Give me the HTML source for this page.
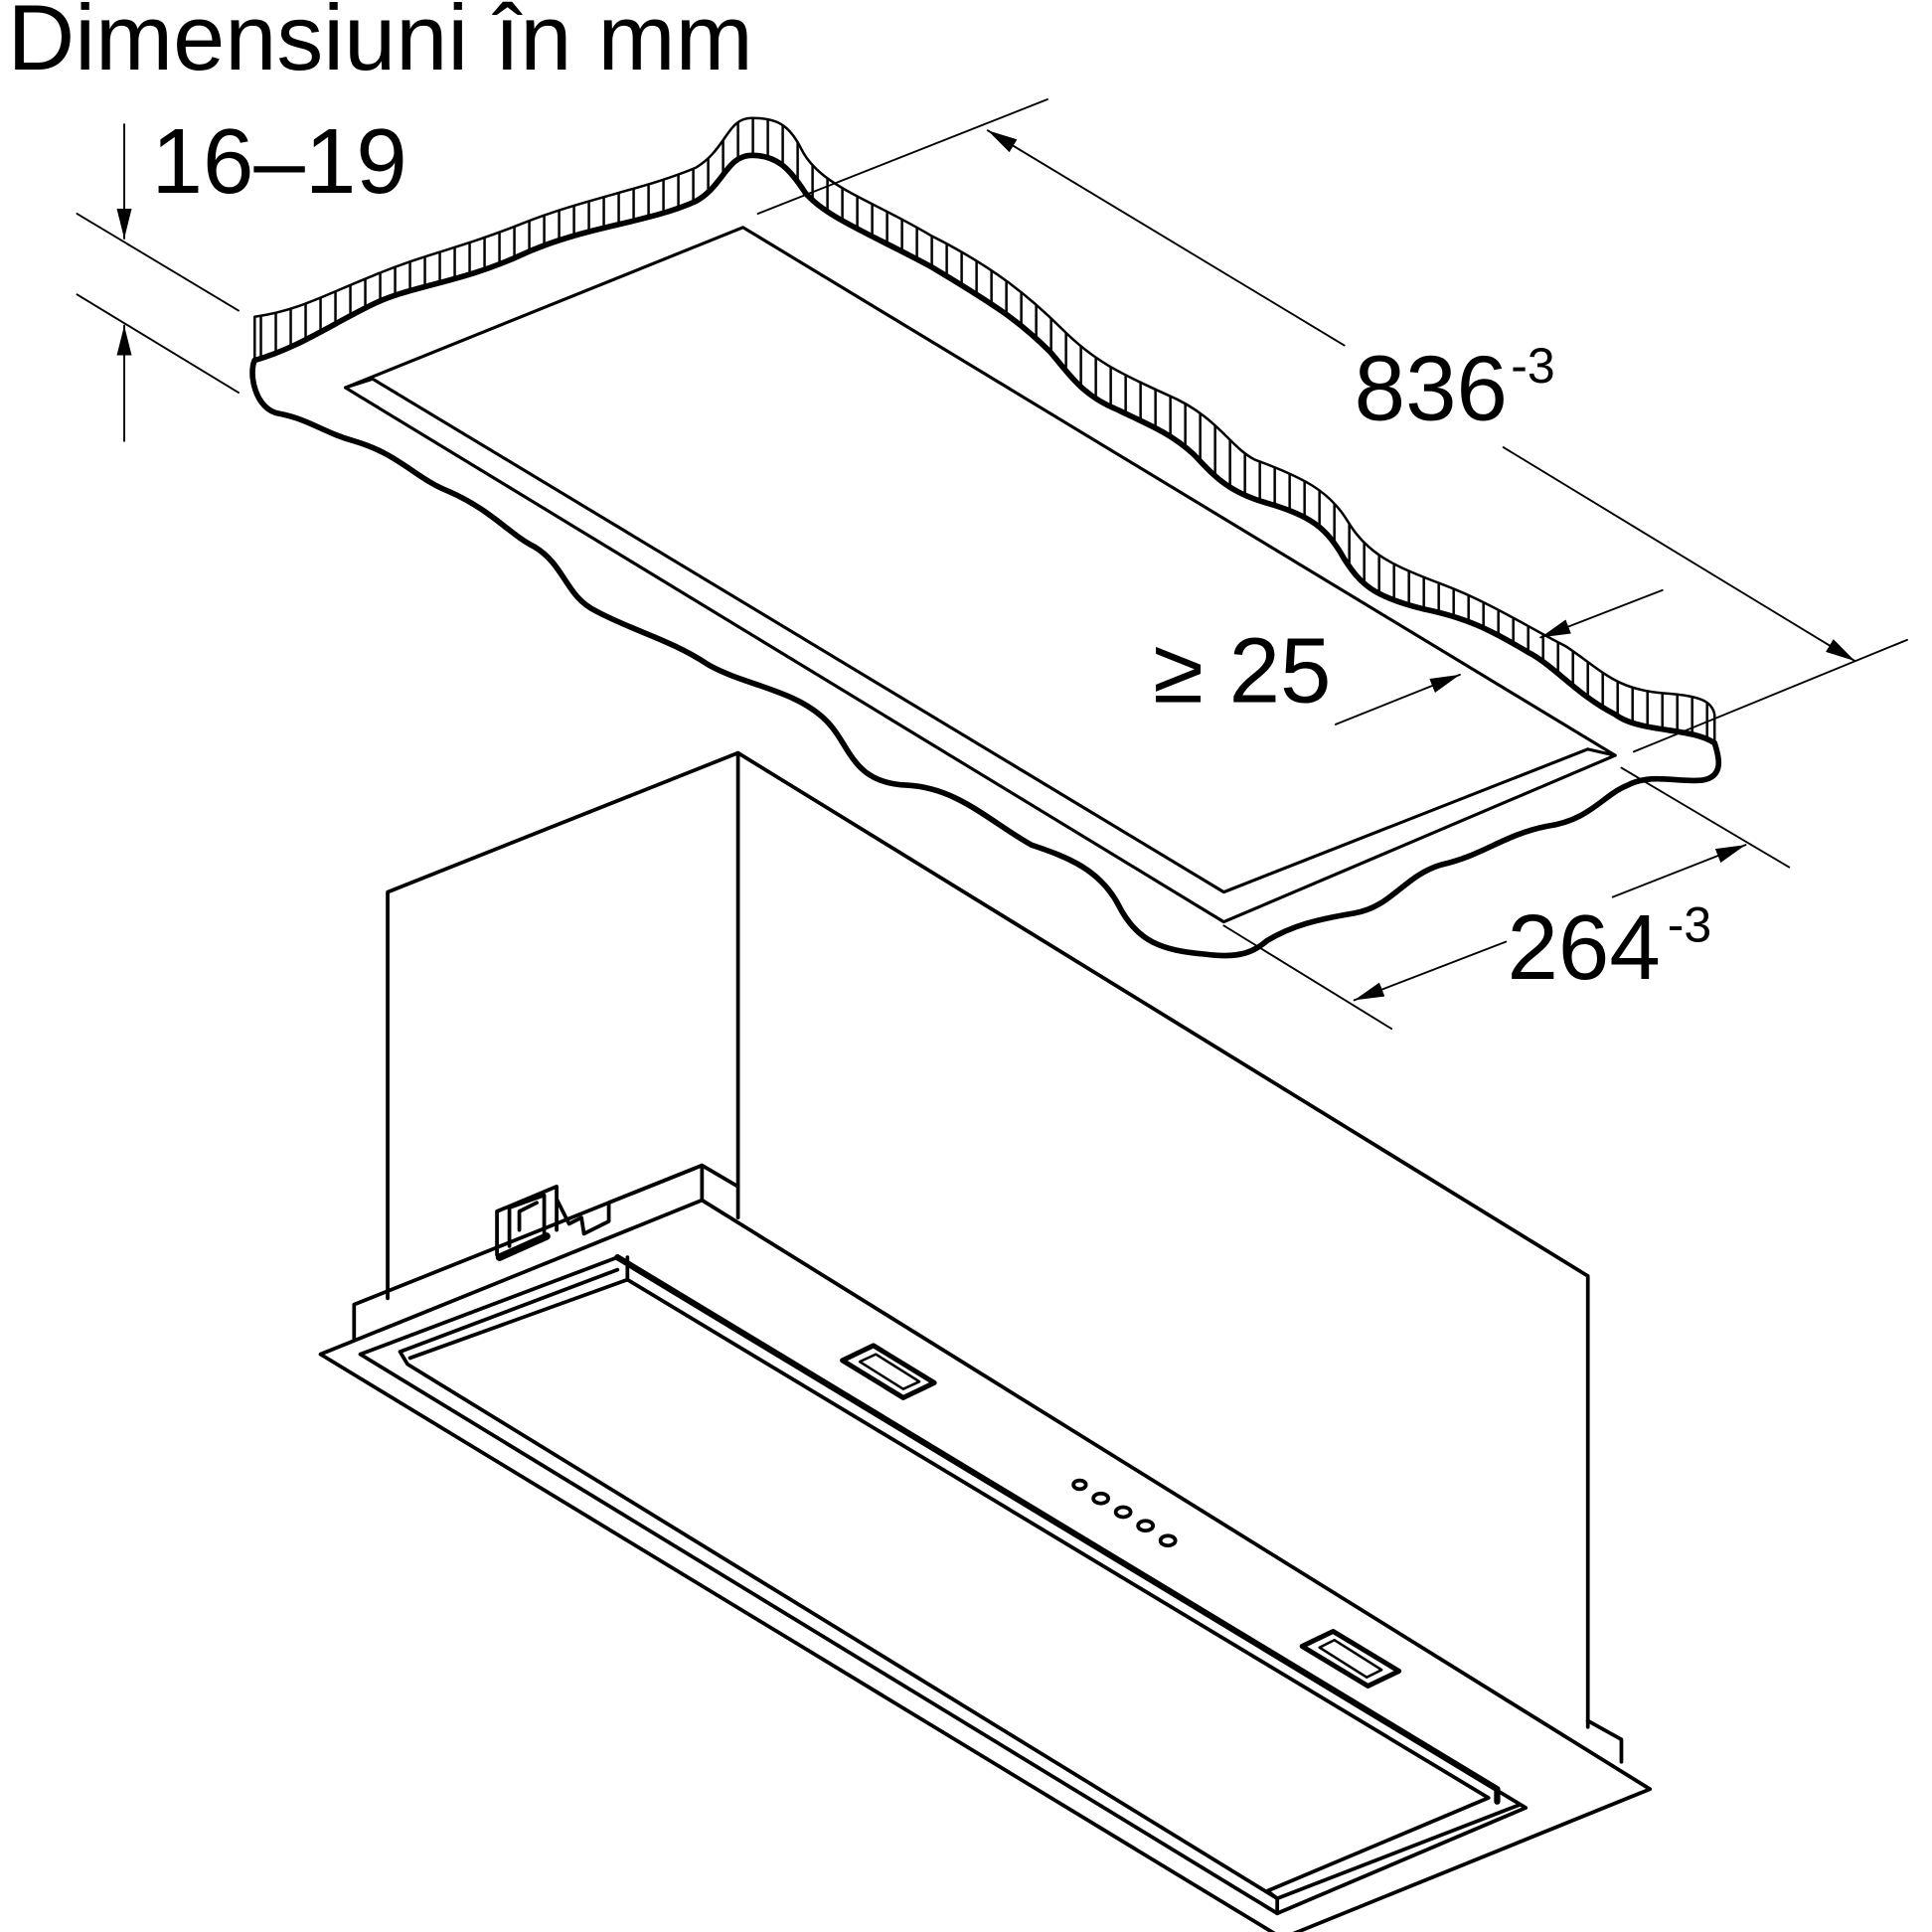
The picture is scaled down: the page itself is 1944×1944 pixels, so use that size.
<!DOCTYPE html>
<html><head><meta charset="utf-8"><style>
html,body{margin:0;padding:0;background:#fff;}
svg{display:block;}
text{font-family:"Liberation Sans",sans-serif;fill:#000;}
</style></head><body>
<svg width="1944" height="1944" viewBox="0 0 1555 1555" xmlns="http://www.w3.org/2000/svg">
<defs>
<pattern id="hatch" width="12" height="40" patternUnits="userSpaceOnUse">
<rect width="12" height="40" fill="#fff"/>
<line x1="6" y1="0" x2="6" y2="40" stroke="#000" stroke-width="2"/>
</pattern>
<marker id="ar" viewBox="0 0 24 12" refX="24" refY="6" markerWidth="24" markerHeight="12" orient="auto-start-reverse" markerUnits="userSpaceOnUse">
<path d="M0,0 L24,6 L0,12 z" fill="#000"/>
</marker>
</defs>
<g fill="none" stroke="#000" stroke-linejoin="round" stroke-linecap="round">
<text x="6" y="56" font-size="75" stroke="none">Dimensiuni în mm</text>
<text x="122" y="155" font-size="74" stroke="none">16–19</text>
<text x="1090" y="338" font-size="74" stroke="none">836</text>
<text x="1216" y="308" font-size="40" stroke="none">-3</text>
<text x="928" y="565" font-size="74" stroke="none">≥ 25</text>
<text x="1213" y="788" font-size="74" stroke="none">264</text>
<text x="1342" y="758" font-size="40" stroke="none">-3</text>

<path fill="url(#hatch)" stroke="#000" stroke-width="2" d="M205,255 C240,250 260,238 300,222 C340,205 370,200 420,180 C470,160 520,152 560,135 C585,120 585,95 605,95 C625,95 635,100 645,120 C660,150 700,160 750,190 C800,215 830,240 855,265 C880,290 900,300 940,318 C980,335 990,360 1010,370 C1050,385 1070,395 1085,420 C1100,445 1120,455 1160,470 C1200,485 1230,505 1260,520 C1290,540 1300,555 1340,558 C1370,560 1378,565 1380,575 L1380,598 C1360,585 1320,590 1300,575 C1270,560 1250,535 1230,525 C1200,507 1180,497 1145,490 C1105,480 1095,470 1082,450 C1068,425 1055,415 1020,405 C985,395 975,380 960,365 C940,347 920,340 900,330 C870,318 860,300 845,283 C820,258 800,245 750,215 C700,188 665,175 648,155 C635,135 625,125 605,125 C585,125 582,150 560,162 C520,180 470,182 420,205 C370,228 330,230 300,245 C265,262 240,280 205,290 Z"/>
<path stroke-width="4.5" d="M1380,598 C1360,585 1320,590 1300,575 C1270,560 1250,535 1230,525 C1200,507 1180,497 1145,490 C1105,480 1095,470 1082,450 C1068,425 1055,415 1020,405 C985,395 975,380 960,365 C940,347 920,340 900,330 C870,318 860,300 845,283 C820,258 800,245 750,215 C700,188 665,175 648,155 C635,135 625,125 605,125 C585,125 582,150 560,162 C520,180 470,182 420,205 C370,228 330,230 300,245 C265,262 240,280 205,290"/>
<path stroke-width="4.5" d="M205,290 C200,300 205,330 225,333 C250,338 260,348 285,355 C320,365 335,385 360,395 C395,410 410,430 430,440 C455,455 455,480 480,492 C510,508 540,515 570,535 C600,552 640,555 665,580 C685,600 685,630 730,632 C770,634 795,660 830,680 C860,690 885,700 900,728 C915,758 935,765 970,768 C1000,772 1010,765 1020,757 C1040,745 1060,740 1090,735 C1120,730 1130,705 1160,696 C1195,688 1210,672 1245,665 C1280,660 1290,640 1310,632 C1330,622 1350,630 1370,628 C1390,625 1382,605 1380,598"/>

<path stroke-width="2.5" d="M278,312 L598,183 L1300,608 L985,742 Z"/>
<path stroke-width="2.5" d="M300,305 L985,718 L1278,603 M278,312 L300,305 M1278,603 L1300,608"/>

<path stroke-width="1.5" d="M62,172 L192,250 M62,237 L192,316"/>
<line x1="100" y1="100" x2="100" y2="192" stroke-width="1.5" marker-end="url(#ar)"/>
<line x1="100" y1="355" x2="100" y2="262" stroke-width="1.5" marker-end="url(#ar)"/>
<path stroke-width="1.5" d="M610,172 L843,80 M1315,605 L1535,515"/>
<line x1="1082" y1="278" x2="795" y2="105" stroke-width="1.5" marker-end="url(#ar)"/>
<line x1="1210" y1="360" x2="1493" y2="532" stroke-width="1.5" marker-end="url(#ar)"/>
<line x1="1075" y1="583" x2="1175" y2="543" stroke-width="1.5" marker-end="url(#ar)"/>
<line x1="1338" y1="475" x2="1240" y2="513" stroke-width="1.5" marker-end="url(#ar)"/>
<path stroke-width="1.5" d="M1305,618 L1440,698 M985,745 L1120,828"/>
<line x1="1298" y1="722" x2="1405" y2="680" stroke-width="1.5" marker-end="url(#ar)"/>
<line x1="1212" y1="758" x2="1090" y2="805" stroke-width="1.5" marker-end="url(#ar)"/>

<g stroke-width="3">
<path d="M312,1045 L312,718 L594,606 L1278,1027 L1278,1390"/>
<path d="M594,606 L594,980"/>
<path d="M285,1078 L285,1050 L565,938 L594,955 M565,938 L565,966"/>
<path d="M1278,1385 L1305,1400 L1305,1418"/>
<path d="M258,1090 L565,966 L1328,1440 L1032,1560 Z"/>
<path d="M290,1090 L497,1012 L1228,1455 L1028,1540 Z"/>
<path d="M322,1088 L497,1022 M330,1093 L505,1030 L1198,1447 L1020,1522 M505,1012 L505,1030 M322,1088 L328,1098 L1028,1528 L1028,1540 M1020,1522 L1028,1528 L1222,1453"/>
<path d="M497,1012 L1205,1440 L1205,1450" stroke-width="5"/>
<path d="M400,1010 L400,975 L448,955 L448,990 M410,1003 L410,972 L438,962 L438,995 M418,990 L418,975 L432,968 M448,965 L458,985 L468,980 L470,993 L490,983 L490,968 L560,940"/>
<path d="M402,1012 L440,995" stroke-width="6"/>
<path d="M678,1095 L703,1083 L752,1113 L727,1125 Z" stroke-width="4"/>
<path d="M692,1096 L705,1090 L740,1112 L727,1118 Z" stroke-width="2"/>
<path d="M1048,1325 L1073,1313 L1126,1345 L1101,1357 Z" stroke-width="4"/>
<path d="M1062,1326 L1074,1320 L1112,1344 L1100,1350 Z" stroke-width="2"/>
</g>
<g stroke-width="3">
<ellipse cx="869" cy="1195" rx="5" ry="3.5"/>
<ellipse cx="886" cy="1206" rx="6" ry="4"/>
<ellipse cx="904" cy="1217" rx="6" ry="4"/>
<ellipse cx="922" cy="1228" rx="6" ry="4"/>
<ellipse cx="940" cy="1240" rx="6" ry="4"/>
</g>
</g>
</svg>
</body></html>
